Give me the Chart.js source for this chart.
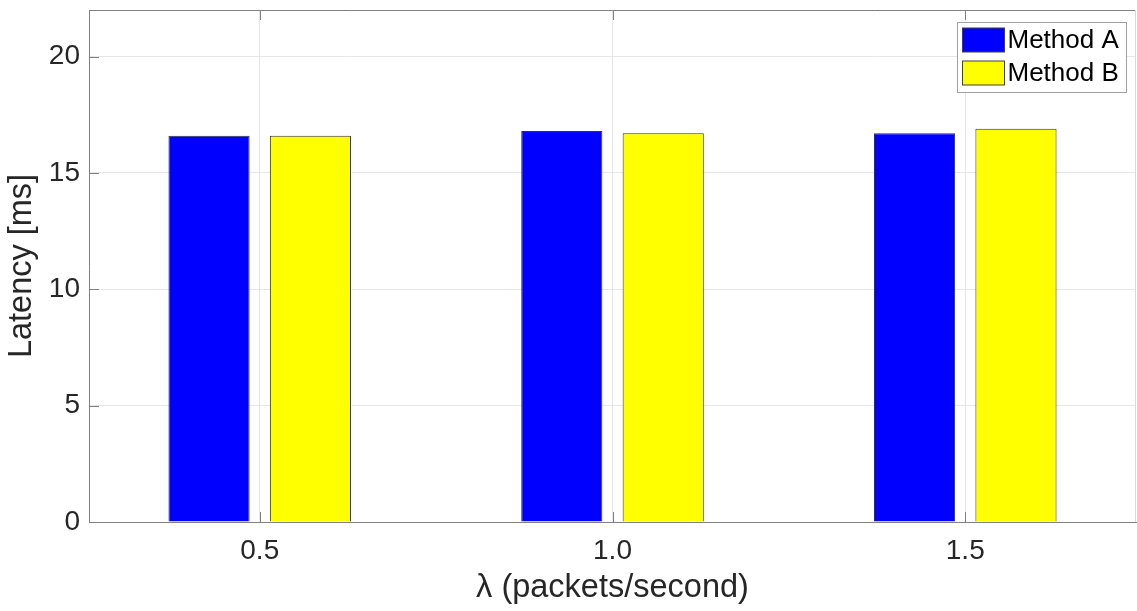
<!DOCTYPE html>
<html>
<head>
<meta charset="utf-8">
<script src="https://cdn.jsdelivr.net/npm/chart.js@4/dist/chart.umd.min.js"></script>
<style>
  html, body { margin: 0; padding: 0; background: #fff; }
  #wrap { width: 1137px; height: 611px; }
</style>
</head>
<body>
<div id="wrap"><canvas id="c" width="1137" height="611"></canvas></div>
<script>
const categories = ['0.5', '1.0', '1.5'];
const xValues = [0.5, 1.0, 1.5];
const methodA = [16.6, 16.8, 16.7];
const methodB = [16.6, 16.7, 16.9];
const yTicks = [0, 5, 10, 15, 20];
const seriesNames = ['Method A', 'Method B'];
const seriesColors = ['#0000ff', '#ffff00'];

const FONT = "'Liberation Sans', Arial, Helvetica, sans-serif";
const TEXT = '#262626';

const toPoints = (vals) => xValues.map((x, i) => ({ x: x, y: vals[i] }));

const boxPlugin = {
  id: 'boxPlugin',
  afterDraw(chart) {
    const ctx = chart.ctx;
    const a = chart.chartArea;
    const xs = chart.scales.x, ys = chart.scales.y;
    ctx.save();
    ctx.strokeStyle = '#808080';
    ctx.lineWidth = 1;
    ctx.beginPath();
    ctx.moveTo(a.left, a.top + 0.5);
    ctx.lineTo(a.right, a.top + 0.5);
    ctx.stroke();
    ctx.strokeStyle = '#d9d9d9';
    ctx.beginPath();
    ctx.moveTo(a.right - 0.5, a.top);
    ctx.lineTo(a.right - 0.5, a.bottom);
    ctx.stroke();
    ctx.strokeStyle = '#808080';
    ys.ticks.forEach((t) => {
      const y = Math.round(ys.getPixelForValue(t.value)) + 0.5;
      ctx.beginPath();
      ctx.moveTo(a.left, y);
      ctx.lineTo(a.left + 10, y);
      ctx.stroke();
    });
    xs.ticks.forEach((t) => {
      const x = Math.round(xs.getPixelForValue(t.value)) + 0.5;
      ctx.beginPath();
      ctx.moveTo(x, a.bottom);
      ctx.lineTo(x, a.bottom - 10);
      ctx.moveTo(x, a.top);
      ctx.lineTo(x, a.top + 10);
      ctx.stroke();
    });
    const bx = a.right - 178.5, by = a.top + 12.5, bw = 169, bh = 70;
    ctx.fillStyle = '#ffffff';
    ctx.fillRect(bx, by, bw, bh);
    ctx.strokeStyle = '#a0a0a0';
    ctx.strokeRect(bx, by, bw, bh);
    ctx.font = '26px ' + FONT;
    ctx.textBaseline = 'middle';
    ctx.textAlign = 'left';
    chart.data.datasets.forEach((ds, i) => {
      const sy = by + 5.5 + i * 33;
      ctx.fillStyle = ds.backgroundColor;
      ctx.fillRect(bx + 5, sy, 42, 24);
      ctx.strokeStyle = '#404040';
      ctx.strokeRect(bx + 5, sy, 42, 24);
      ctx.fillStyle = '#000000';
      ctx.fillText(ds.label, bx + 50, sy + 13);
    });
    ctx.restore();
  }
};

new Chart(document.getElementById('c'), {
  type: 'bar',
  data: {
    datasets: [
      { label: seriesNames[0], data: toPoints(methodA), backgroundColor: seriesColors[0], borderColor: '#333333', borderWidth: 1 },
      { label: seriesNames[1], data: toPoints(methodB), backgroundColor: seriesColors[1], borderColor: '#333333', borderWidth: 1 }
    ]
  },
  options: {
    responsive: false,
    animation: false,
    devicePixelRatio: 1,
    categoryPercentage: 0.575,
    barPercentage: 0.8,
    layout: { padding: { top: 10, right: 1, left: 0, bottom: 0 } },
    plugins: { legend: { display: false }, tooltip: { enabled: false } },
    scales: {
      x: {
        type: 'linear',
        min: 0.258,
        max: 1.742,
        offset: false,
        afterBuildTicks(scale) { scale.ticks = xValues.map(v => ({ value: v })); },
        afterFit(scale) { scale.height = 89; scale.paddingLeft = 0; scale.paddingRight = 0; },
        grid: { color: '#e6e6e6', drawTicks: false, offset: false },
        border: { color: '#808080' },
        ticks: {
          color: TEXT,
          font: { family: FONT, size: 28 },
          padding: 12,
          maxRotation: 0,
          callback: (v) => categories[xValues.indexOf(v)]
        },
        title: {
          display: true,
          text: 'λ (packets/second)',
          color: TEXT,
          font: { family: FONT, size: 32.5 },
          padding: { top: 0, bottom: 3 }
        }
      },
      y: {
        min: 0,
        max: 22,
        afterBuildTicks(scale) { scale.ticks = yTicks.map(v => ({ value: v })); },
        afterFit(scale) { scale.width = 89; scale.paddingTop = 0; scale.paddingBottom = 0; },
        grid: { color: '#e6e6e6', drawTicks: false },
        border: { color: '#808080' },
        ticks: {
          color: TEXT,
          font: { family: FONT, size: 28 },
          padding: 9,
          callback: (v) => String(v)
        },
        title: {
          display: true,
          text: 'Latency [ms]',
          color: TEXT,
          font: { family: FONT, size: 32.5 },
          padding: { top: 3, bottom: 0 }
        }
      }
    }
  },
  plugins: [boxPlugin]
});
</script>
</body>
</html>
